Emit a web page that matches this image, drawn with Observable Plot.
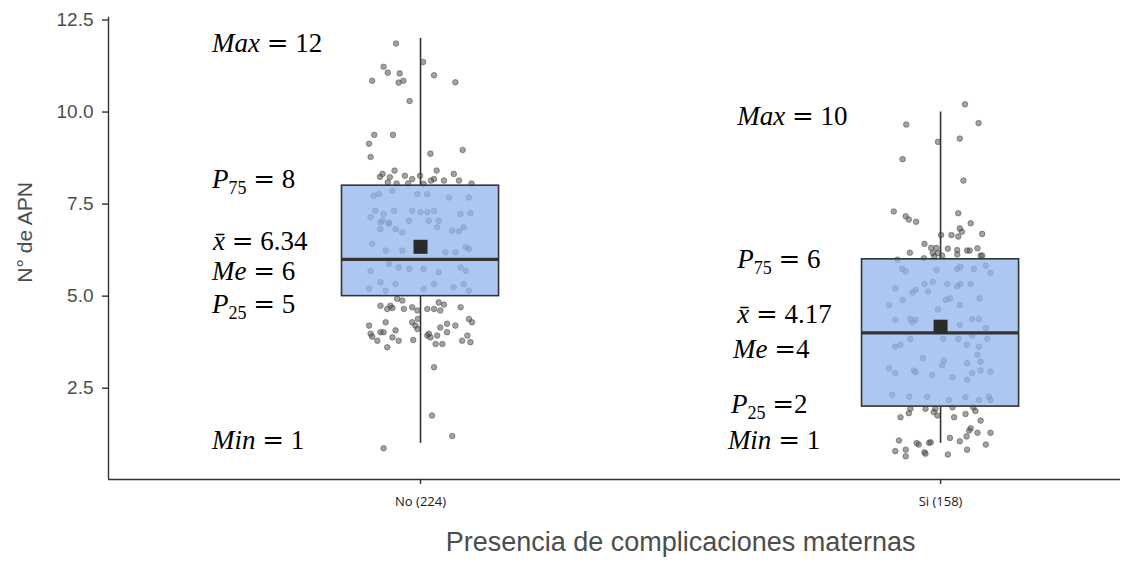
<!DOCTYPE html>
<html>
<head>
<meta charset="utf-8">
<script src="https://cdn.jsdelivr.net/npm/d3@7"></script>
<script src="https://cdn.jsdelivr.net/npm/@observablehq/plot@0.6"></script>
<style>
  html, body { margin: 0; padding: 0; background: #fff; }
  #chart svg { display: block; }
  text { white-space: pre; }
</style>
</head>
<body>
<div id="chart"></div>
<script>
// ---------- data ----------
const categories = ["No (224)", "Si (158)"];
const minV   = [1, 1];
const q1     = [5, 2];
const median = [6, 4];
const q3     = [8, 6];
const maxV   = [12, 10];
const means  = [6.34, 4.17];
const yTicks = [2.5, 5, 7.5, 10, 12.5];
const xTitle = "Presencia de complicaciones maternas";
const yTitle = "N° de APN";

// jittered observations: [horizontal jitter (fraction of category step), value]
const noPoints = [
  [-0.047,11.86],[0.005,11.36],[-0.071,11.23],[-0.063,11.07],[-0.040,11.05],[0.026,11.00],[-0.093,10.85],[-0.042,10.80],[-0.033,10.85],[0.067,10.81],
  [-0.021,10.30],[-0.089,9.38],[-0.053,9.38],[-0.099,9.14],[0.081,8.97],[-0.096,8.78],[0.019,8.87],[-0.050,8.41],[0.031,8.41],[-0.073,8.32],
  [-0.078,8.24],[-0.059,8.23],[-0.030,8.27],[-0.016,8.18],[-0.001,8.27],[0.064,8.32],[0.026,8.18],[0.020,8.14],[0.045,8.14],[0.074,8.14],
  [-0.063,8.09],[-0.046,8.06],[-0.024,8.06],[0.006,8.05],[0.098,8.06],
  [-0.090,7.73],[-0.080,7.77],[-0.054,7.86],[-0.006,7.77],[0.013,7.77],[0.055,7.68],[0.093,7.68],[-0.087,7.32],[-0.071,7.23],[-0.051,7.32],
  [-0.016,7.32],[0.000,7.28],[0.013,7.28],[0.026,7.32],[-0.096,7.14],[-0.073,7.05],[-0.061,6.96],[-0.022,7.05],[0.016,7.05],[0.035,7.05],
  [0.077,7.23],[0.096,7.25],[-0.077,6.82],[-0.048,6.82],[-0.035,6.73],[0.032,6.87],[0.061,6.78],[0.074,6.76],
  [-0.077,7.00],[-0.061,7.00],[0.083,6.87],[-0.093,6.42],[-0.067,6.24],[-0.035,6.24],[0.048,6.19],[0.067,6.19],[0.087,6.33],[0.093,6.28],
  [-0.061,5.88],[-0.042,5.78],[-0.022,5.74],[-0.096,5.69],[0.006,5.74],[0.035,5.65],[0.077,5.78],[0.087,5.69],[-0.077,5.38],[-0.067,5.15],
  [-0.099,5.20],[-0.048,5.33],[0.006,5.20],[0.026,5.33],[0.064,5.24],[0.083,5.33],[0.093,5.15],
  [-0.045,4.93],[-0.035,4.88],[-0.077,4.74],[-0.058,4.74],[-0.054,4.68],[-0.064,4.65],[-0.032,4.65],[-0.016,4.70],[-0.006,4.61],[0.013,4.65],
  [0.026,4.65],[0.035,4.83],[0.045,4.77],[0.038,4.61],[0.077,4.70],[-0.099,4.20],[-0.067,4.29],[-0.016,4.29],[-0.010,4.20],[-0.005,4.38],
  [-0.006,4.11],[0.038,4.15],[0.051,4.25],[0.067,4.20],[0.093,4.38],[0.099,4.29],[-0.096,3.98],[-0.093,3.90],[-0.077,4.02],[-0.071,4.02],
  [-0.048,4.07],[-0.054,3.88],[-0.083,3.79],[-0.042,3.79],[-0.064,3.61],[-0.014,3.81],[0.013,3.93],[0.016,3.98],[0.019,3.88],[0.032,3.93],
  [0.029,3.70],[0.042,3.70],[0.051,4.02],[0.080,3.79],[0.090,3.93],[0.096,3.75],[0.026,3.07],[0.022,1.76],[0.061,1.20],[-0.071,0.87]
];
const siPoints = [
  [0.047,10.21],[-0.066,9.66],[0.073,9.70],[-0.005,9.19],[0.037,9.28],[-0.073,8.72],[0.044,8.14],[-0.090,7.30],[-0.067,7.17],[-0.061,7.08],
  [-0.047,7.02],[0.034,7.25],[0.037,6.84],[0.041,6.75],[0.058,6.98],[0.080,6.69],[0.001,6.66],[0.021,6.66],[0.034,6.62],[-0.031,6.42],
  [-0.059,6.18],[-0.018,6.31],[-0.008,6.31],[-0.015,6.17],[-0.005,6.17],[-0.012,6.08],[0.014,6.29],[0.032,6.25],[0.032,6.13],[0.051,6.24],
  [0.056,6.24],[0.071,6.30],[0.077,6.10],[0.080,6.10],[-0.032,6.03],[0.003,6.10],[-0.083,5.99],
  [-0.074,5.74],[-0.067,5.67],[-0.008,5.71],[0.032,5.74],[0.038,5.80],[0.064,5.74],[0.087,5.83],[0.096,5.63],[-0.087,5.21],[-0.031,5.33],
  [-0.015,5.39],[0.013,5.33],[0.032,5.27],[0.038,5.33],[0.058,5.33],[-0.054,5.10],[-0.048,5.17],[-0.024,5.13],[-0.073,4.90],[0.010,4.90],
  [0.018,4.94],[0.075,4.94],[-0.099,4.76],[0.037,4.76],[-0.005,4.64],[-0.087,4.36],[-0.058,4.38],[-0.048,4.36],[-0.054,4.29],[0.061,4.38],
  [0.074,4.38],[0.037,4.22],[0.087,4.13],[-0.058,3.84],[0.005,3.84],[0.034,3.84],[0.061,3.93],[0.090,3.84],[-0.087,3.63],[-0.077,3.68],
  [0.051,3.68],[0.074,3.63],[0.071,3.41],[-0.034,3.32],[0.006,3.25],[0.003,3.12],[0.051,3.18],[0.077,3.22],[-0.099,3.04],[-0.087,2.91],
  [-0.051,2.98],[-0.048,2.93],[-0.016,2.86],[0.023,2.80],[0.051,2.73],[0.061,2.91],[0.077,2.98],[0.096,2.95],[-0.093,2.32],[-0.060,2.27],
  [-0.026,2.27],[0.016,2.18],[0.048,2.26],[0.074,2.18],[0.093,2.27],[0.096,2.18],
  [-0.058,1.94],[-0.061,1.82],[-0.029,1.94],[-0.010,1.94],[-0.013,1.85],[-0.006,1.76],[0.023,1.98],[0.063,1.98],[0.067,1.88],[-0.077,1.71],
  [0.026,1.71],[0.048,1.80],[0.077,1.62],[0.058,1.41],[0.055,1.35],[0.071,1.29],[0.096,1.29],[0.050,1.19],[-0.080,1.08],[-0.046,1.01],
  [-0.042,0.97],[-0.022,1.02],[-0.019,1.03],[0.018,1.15],[0.037,1.06],[0.087,0.97],[-0.087,0.79],[-0.067,0.83],[-0.067,0.65],[-0.031,0.76],
  [-0.029,0.72],[0.014,0.70],[0.051,0.83]
];

// annotation texts
const statSymbols = ["Max", "P", "x\u0304", "Me", "P", "Min"];
const statSubs    = ["", "75", "", "", "25", ""];
const noStatValues = ["12", "8", "6.34", "6", "5", "1"];
const siStatValues = ["10", "6", "4.17", "4", "2", "1"];
const noSpaced = [true, true, true, true, true, true];   // space after "="
const siSpaced = [true, true, true, false, false, true];
// label anchors (value axis) and horizontal offset from category centre
const noLabelY = [11.62, 7.92, 6.24, 5.42, 4.53, 0.84];
const siLabelY = [9.63, 5.75, 4.26, 3.31, 1.80, 0.83];
const noLabelX = [-0.400, -0.400, -0.398, -0.400, -0.400, -0.400];
const siLabelX = [-0.390, -0.390, -0.390, -0.398, -0.402, -0.408];

// ---------- derived tables ----------
const groups = categories.map((c, i) => ({
  pos: i + 1, min: minV[i], q1: q1[i], median: median[i], q3: q3[i], max: maxV[i], mean: means[i]
}));
const points = [
  ...noPoints.map(([o, v]) => ({x: 1 + o, y: v})),
  ...siPoints.map(([o, v]) => ({x: 2 + o, y: v}))
];
const half = 0.151;
const dark = "#333333";

const chart = Plot.plot({
  width: 1130,
  height: 567,
  marginLeft: 108,
  marginRight: 10,
  marginTop: 16.7,
  marginBottom: 88,
  style: {fontFamily: "Liberation Sans, Arial, sans-serif", background: "#fff"},
  x: {type: "linear", domain: [0.4, 2.346]},
  y: {domain: [0.02, 12.576]},
  marks: [
    // whiskers
    Plot.ruleX(groups, {x: "pos", y1: "q3", y2: "max", stroke: dark, strokeWidth: 1.6}),
    Plot.ruleX(groups, {x: "pos", y1: "min", y2: "q1", stroke: dark, strokeWidth: 1.6}),
    // jittered points
    Plot.dot(points, {x: "x", y: "y", r: 2.8, fill: "#555", fillOpacity: 0.55, stroke: "#333", strokeOpacity: 0.55, strokeWidth: 0.8}),
    // boxes
    Plot.rect(groups, {x1: d => d.pos - half, x2: d => d.pos + half, y1: "q1", y2: "q3",
      fill: "#93b6eb", fillOpacity: 0.76, stroke: dark, strokeWidth: 1.6}),
    Plot.ruleY(groups, {x1: d => d.pos - half, x2: d => d.pos + half, y: "median", stroke: dark, strokeWidth: 3.2}),
    // means
    Plot.dot(groups, {x: "pos", y: "mean", symbol: "square", r: 7.9, fill: "#2b2b2b", stroke: "none"}),
    // axis lines
    Plot.ruleY([0.02], {stroke: dark, strokeWidth: 1.4}),
    Plot.ruleX([0.4], {stroke: dark, strokeWidth: 1.4}),
    Plot.axisY({ticks: yTicks, tickFormat: d3.format(".1f"), tickSize: 6, tickPadding: 9,
      fontSize: 19, fill: "#4d4d4d", stroke: dark, strokeWidth: 1.4, label: null}),
    Plot.axisX({ticks: [1, 2], tickFormat: i => categories[i - 1], tickSize: 5, tickPadding: 12,
      fontSize: 13, fontFamily: "Open Sans, sans-serif", fill: "#1a1a1a", stroke: dark, strokeWidth: 1.4, label: null}),
    // titles
    Plot.text([yTitle], {frameAnchor: "left", textAnchor: "middle", text: d => d, rotate: -90, dx: -83, dy: -16,
      fontSize: 21, fill: "#4d4d4d"}),
    Plot.text([xTitle], {x: () => 1.5, frameAnchor: "bottom", text: d => d, dy: 71,
      fontSize: 27, fill: "#4d4d4d"})
  ]
});

// math-style annotations positioned through the plot's own scales
const xs = chart.scale("x"), ys = chart.scale("y");
const svg = d3.select(chart);
const ann = svg.append("g")
  .attr("font-family", "Liberation Serif, 'DejaVu Serif', serif")
  .attr("font-size", 27)
  .attr("text-anchor", "start")
  .attr("fill", "#000");
function addLabels(pos, labelX, labelY, values, spaced) {
  statSymbols.forEach((sym, k) => {
    const t = ann.append("text")
      .attr("text-anchor", "start")
      .attr("x", xs.apply(pos + labelX[k]))
      .attr("y", ys.apply(labelY[k]));
    t.append("tspan").attr("font-style", "italic").text(sym);
    let shift = 0;
    if (statSubs[k]) {
      t.append("tspan").attr("font-size", 18).attr("dy", 6).text(statSubs[k]);
      shift = -6;
    }
    t.append("tspan").attr("dy", shift).text(" ");
    t.append("tspan").attr("font-family", "DejaVu Serif, serif").attr("font-size", 26).text("=");
    t.append("tspan").text((spaced[k] ? " " : "") + values[k]);
  });
}
addLabels(1, noLabelX, noLabelY, noStatValues, noSpaced);
addLabels(2, siLabelX, siLabelY, siStatValues, siSpaced);

document.getElementById("chart").append(chart);
</script>
</body>
</html>
